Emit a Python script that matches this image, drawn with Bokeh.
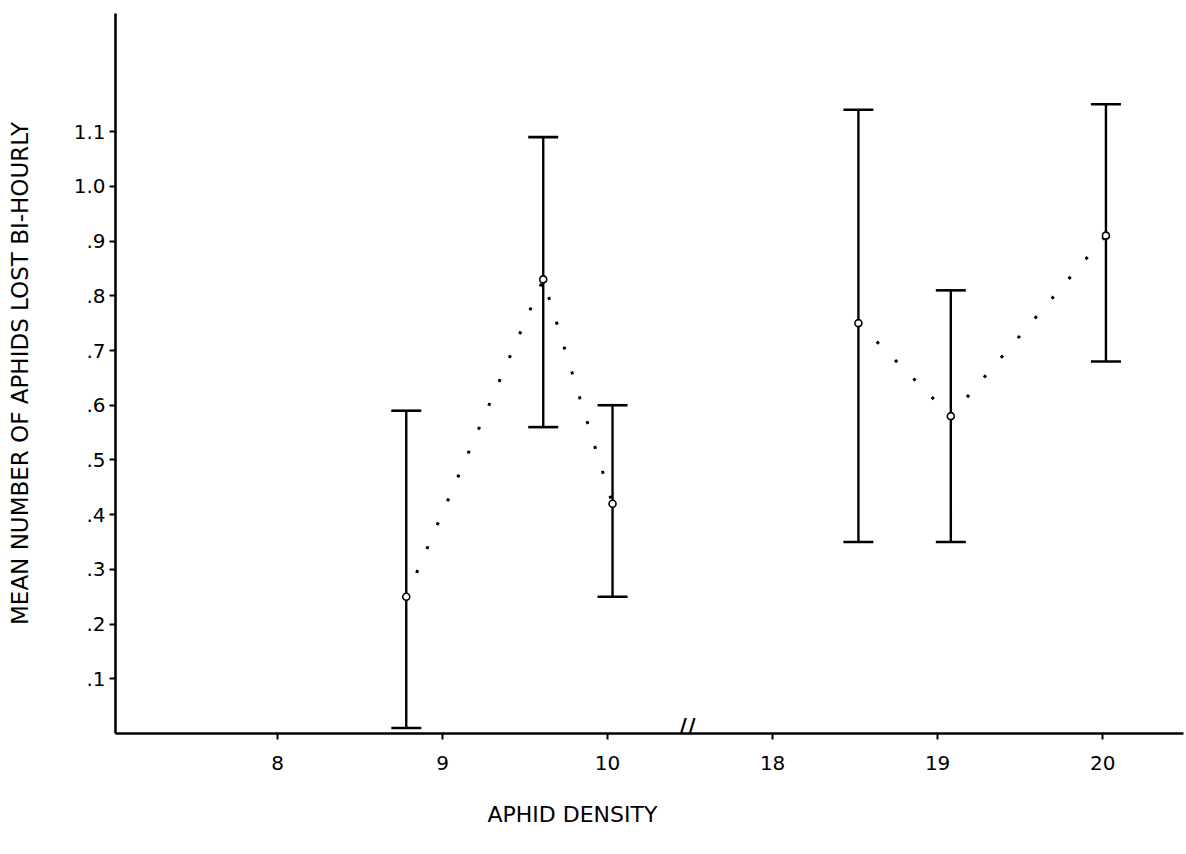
from bokeh.plotting import figure
from bokeh.models import Range1d, FixedTicker, Whisker, ColumnDataSource, TeeHead, Title
from bokeh.core.properties import value
from bokeh.embed import file_html
from bokeh.resources import INLINE

# Aphid density (x) and mean number of aphids lost bi-hourly with its range
density = [8.78, 9.61, 10.03, 18.52, 19.08, 20.02]
mean_lost = [0.25, 0.83, 0.42, 0.75, 0.58, 0.91]
upper = [0.59, 1.09, 0.60, 1.14, 0.81, 1.15]
lower = [0.01, 0.56, 0.25, 0.35, 0.35, 0.68]

x_ticks = [8, 9, 10, 18, 19, 20]
y_ticks = [0.1, 0.2, 0.3, 0.4, 0.5, 0.6, 0.7, 0.8, 0.9, 1.0, 1.1]
y_tick_labels = [".1", ".2", ".3", ".4", ".5", ".6", ".7", ".8", ".9", "1.0", "1.1"]

# The x axis is broken between 10 and 18: 18 sits one unit after 10.
def broken(d):
    return d - 8 if d < 14 else d - 15

FONT = "DejaVu Sans"

src = ColumnDataSource(dict(
    u=[broken(d) for d in density],
    mean=mean_lost, upper=upper, lower=lower,
))

p = figure(width=1186, height=854, output_backend="svg", toolbar_location=None,
           x_range=Range1d(-0.982, 5.49), y_range=Range1d(0, 1.316),
           min_border_left=115, min_border_right=3, min_border_top=13,
           min_border_bottom=121)
p.outline_line_color = None
p.xgrid.visible = False
p.ygrid.visible = False
p.background_fill_color = "white"
p.border_fill_color = "white"

# axes
tick_pos = [broken(t) for t in x_ticks]
p.xaxis.ticker = FixedTicker(ticks=tick_pos)
p.xaxis.major_label_overrides = {tp: str(t) for tp, t in zip(tick_pos, x_ticks)}
p.yaxis.ticker = FixedTicker(ticks=y_ticks)
p.yaxis.major_label_overrides = dict(zip(y_ticks, y_tick_labels))
for ax in (p.xaxis, p.yaxis):
    ax.axis_line_width = 2.6
    ax.axis_line_color = "black"
    ax.major_tick_line_width = 2
    ax.major_tick_line_color = "black"
    ax.major_tick_in = 0
    ax.major_tick_out = 6
    ax.minor_tick_line_color = None
    ax.major_label_text_font = FONT
    ax.major_label_text_font_size = "20px"
    ax.major_label_text_color = "black"
p.xaxis.major_label_standoff = 16
p.yaxis.major_label_standoff = 4

p.yaxis.axis_label = "MEAN NUMBER OF APHIDS LOST BI-HOURLY"
p.yaxis.axis_label_text_font = FONT
p.yaxis.axis_label_text_font_style = "normal"
p.yaxis.axis_label_text_font_size = "23px"
p.yaxis.axis_label_text_color = "black"
p.yaxis.axis_label_standoff = 38

# x axis title, set left of centre under the frame
p.add_layout(Title(text="APHID DENSITY", text_font=FONT, text_font_size="22px",
                   text_font_style="normal", text_color="black",
                   align="left", offset=372, standoff=54), "below")

# axis break mark, sitting on the axis line
p.text(x=[2.48], y=[0.008], text=["//"], text_font=value(FONT),
       text_font_size="26px", text_align="center", text_baseline="middle",
       text_color="black")

# dotted trend lines within each part of the axis
left = src.data["u"][:3]
right = src.data["u"][3:]
p.line(left, mean_lost[:3], line_color="black", line_width=3,
       line_dash="3 23")
p.line(right, mean_lost[3:], line_color="black", line_width=3,
       line_dash="3 23")

# range bars
p.add_layout(Whisker(source=src, base="u", upper="upper", lower="lower",
                     line_width=2.4, line_color="black",
                     upper_head=TeeHead(size=30, line_width=2.6, line_color="black"),
                     lower_head=TeeHead(size=30, line_width=2.6, line_color="black")))

# means
p.scatter("u", "mean", source=src, size=7, marker="circle",
          fill_color="white", line_color="black", line_width=1.6)

open("out.html", "w").write(file_html(p, INLINE))
